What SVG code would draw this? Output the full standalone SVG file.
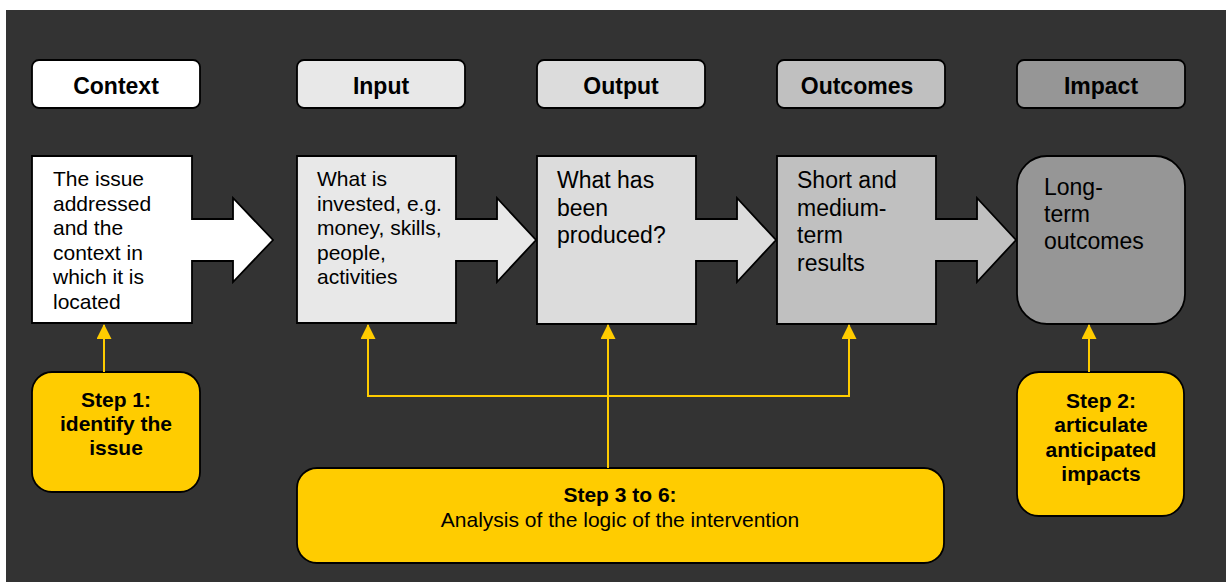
<svg xmlns="http://www.w3.org/2000/svg" width="1227" height="582" viewBox="0 0 1227 582">
<defs>
<marker id="ah" markerWidth="15" markerHeight="15" refX="14" refY="7.5" orient="auto" markerUnits="userSpaceOnUse" viewBox="0 0 15 15">
<path d="M0,0 L15,7.5 L0,15 Z" fill="#ffcc00"/>
</marker>
<style>
.hdr{stroke:#000;stroke-width:1.8}
.box{stroke:#000;stroke-width:1.8;stroke-linejoin:miter}
.step{fill:#ffcc00;stroke:#000;stroke-width:1.8}
.ht{font-family:"Liberation Sans",Arial,sans-serif;font-weight:bold;font-size:23px;fill:#000;text-anchor:middle}
.bt{font-family:"Liberation Sans",Arial,sans-serif;font-size:21px;fill:#000}
.bt2{font-family:"Liberation Sans",Arial,sans-serif;font-size:23px;fill:#000}
.st{font-family:"Liberation Sans",Arial,sans-serif;font-weight:bold;font-size:21px;fill:#000;text-anchor:middle}
.sr{font-family:"Liberation Sans",Arial,sans-serif;font-size:21px;fill:#000;text-anchor:middle}
.con{fill:none;stroke:#ffcc00;stroke-width:2}
</style>
</defs>
<rect x="0" y="0" width="1227" height="582" fill="#ffffff"/>
<rect x="6" y="10" width="1220" height="572" fill="#333333"/>

<g id="hdr-context"><rect class="hdr" x="32" y="60" width="168" height="48" rx="7" fill="#ffffff"/><text class="ht" x="116" y="94">Context</text></g>
<g id="hdr-input"><rect class="hdr" x="297" y="60" width="168" height="48" rx="7" fill="#e8e8e8"/><text class="ht" x="381" y="94">Input</text></g>
<g id="hdr-output"><rect class="hdr" x="537" y="60" width="168" height="48" rx="7" fill="#dcdcdc"/><text class="ht" x="621" y="94">Output</text></g>
<g id="hdr-outcomes"><rect class="hdr" x="777" y="60" width="168" height="48" rx="7" fill="#c0c0c0"/><text class="ht" x="857" y="94">Outcomes</text></g>
<g id="hdr-impact"><rect class="hdr" x="1017" y="60" width="168" height="48" rx="7" fill="#969696"/><text class="ht" x="1101" y="94">Impact</text></g>

<g id="node-context">
<path class="box" fill="#ffffff" d="M32,156 H192 V219 H233 V198 L273,240 L233,282 V261 H192 V323 H32 Z"/>
<text class="bt"><tspan x="53" y="186">The issue</tspan><tspan x="53" y="210.6">addressed</tspan><tspan x="53" y="235.2">and the</tspan><tspan x="53" y="259.8">context in</tspan><tspan x="53" y="284.4">which it is</tspan><tspan x="53" y="309">located</tspan></text>
</g>
<g id="node-input">
<path class="box" fill="#e8e8e8" d="M297,156 H456 V219 H497 V198 L536,240 L497,282 V261 H456 V323 H297 Z"/>
<text class="bt"><tspan x="317" y="186">What is</tspan><tspan x="317" y="210.6">invested, e.g.</tspan><tspan x="317" y="235.2">money, skills,</tspan><tspan x="317" y="259.8">people,</tspan><tspan x="317" y="284.4">activities</tspan></text>
</g>
<g id="node-output">
<path class="box" fill="#dcdcdc" d="M537,156 H696 V219 H737 V198 L776,240 L737,282 V261 H696 V324 H537 Z"/>
<text class="bt2"><tspan x="557" y="188">What has</tspan><tspan x="557" y="215.5">been</tspan><tspan x="557" y="243">produced?</tspan></text>
</g>
<g id="node-outcomes">
<path class="box" fill="#c0c0c0" d="M777,156 H936 V219 H977 V198 L1016,240 L977,282 V261 H936 V324 H777 Z"/>
<text class="bt2"><tspan x="797" y="188">Short and</tspan><tspan x="797" y="215.5">medium-</tspan><tspan x="797" y="243">term</tspan><tspan x="797" y="270.5">results</tspan></text>
</g>
<g id="node-impact">
<rect class="box" x="1017" y="156" width="168" height="168" rx="30" fill="#969696"/>
<text class="bt2"><tspan x="1044" y="195">Long-</tspan><tspan x="1044" y="222">term</tspan><tspan x="1044" y="249">outcomes</tspan></text>
</g>

<g id="step1"><rect class="step" x="32" y="372" width="168" height="120" rx="20"/>
<text class="st"><tspan x="116" y="407">Step 1:</tspan><tspan x="116" y="431">identify the</tspan><tspan x="116" y="455">issue</tspan></text></g>
<g id="step2"><rect class="step" x="1017" y="372" width="167" height="144" rx="22"/>
<text class="st"><tspan x="1101" y="408">Step 2:</tspan><tspan x="1101" y="432.3">articulate</tspan><tspan x="1101" y="456.6">anticipated</tspan><tspan x="1101" y="481">impacts</tspan></text></g>
<g id="step3"><rect class="step" x="297" y="468" width="647" height="95" rx="20"/>
<text class="st" x="620" y="502">Step 3 to 6:</text>
<text class="sr" x="620" y="527">Analysis of the logic of the intervention</text></g>

<g id="connectors">
<line class="con" x1="104" y1="372" x2="104" y2="325" marker-end="url(#ah)"/>
<line class="con" x1="1089" y1="372" x2="1089" y2="325" marker-end="url(#ah)"/>
<line class="con" x1="608" y1="468" x2="608" y2="325" marker-end="url(#ah)"/>
<polyline class="con" points="368,330 368,396 849,396 849,330"/>
<line class="con" x1="368" y1="396" x2="368" y2="325" marker-end="url(#ah)"/>
<line class="con" x1="849" y1="396" x2="849" y2="325" marker-end="url(#ah)"/>
</g>
</svg>
